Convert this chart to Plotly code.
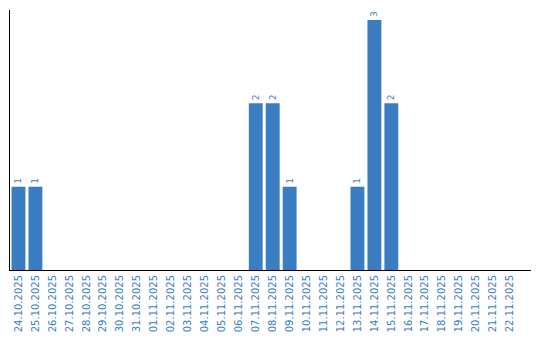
import plotly.graph_objects as go

dates = ["24.10.2025","25.10.2025","26.10.2025","27.10.2025","28.10.2025","29.10.2025",
         "30.10.2025","31.10.2025","01.11.2025","02.11.2025","03.11.2025","04.11.2025",
         "05.11.2025","06.11.2025","07.11.2025","08.11.2025","09.11.2025","10.11.2025",
         "11.11.2025","12.11.2025","13.11.2025","14.11.2025","15.11.2025","16.11.2025",
         "17.11.2025","18.11.2025","19.11.2025","20.11.2025","21.11.2025","22.11.2025"]
values = [1,1,0,0,0,0,0,0,0,0,0,0,0,0,2,2,1,0,0,0,1,3,2,0,0,0,0,0,0,0]

color = "#3b7dc3"
texts = [str(v) if v > 0 else "" for v in values]

fig = go.Figure(go.Bar(
    x=list(range(len(dates))), y=values, marker_color=color, marker_line_width=0,
    text=texts, textposition="outside", textangle=-90, cliponaxis=False,
    textfont=dict(family="DejaVu Sans", size=9, color="#4a7fb8"),
))
fig.update_layout(
    width=540, height=340, margin=dict(l=10, r=9, t=10, b=70),
    paper_bgcolor="white", plot_bgcolor="white", bargap=0.18, showlegend=False,
    font=dict(family="DejaVu Sans", size=10, color=color),
)
fig.update_xaxes(
    tickmode="array", tickvals=list(range(len(dates))), ticktext=dates,
    tickangle=-90, range=[-0.5, 30.24], showline=True, linecolor="black", linewidth=1,
    showgrid=False, zeroline=False, ticks="", tickfont=dict(family="DejaVu Sans", size=10, color=color),
)
fig.update_yaxes(
    range=[0, 3.12], showline=True, linecolor="black", linewidth=1,
    showgrid=False, zeroline=False, showticklabels=False, ticks="",
)
fig.write_html("out.html")
